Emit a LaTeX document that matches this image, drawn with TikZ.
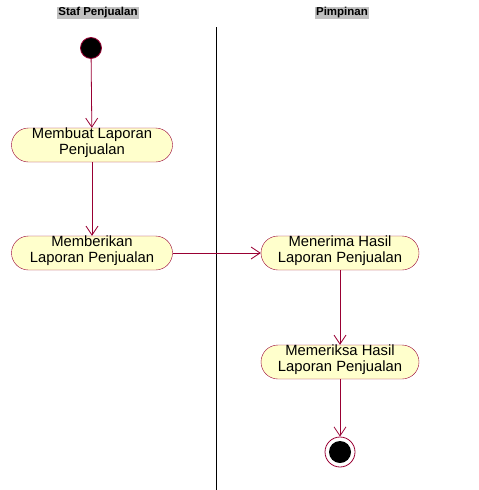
\documentclass[tikz,border=0pt]{standalone}
\usepackage{fontspec}
\setmainfont{Liberation Sans}
\usetikzlibrary{arrows.meta}
\definecolor{uline}{HTML}{990033}
\definecolor{ufill}{HTML}{FFFFCC}
\definecolor{hdr}{HTML}{C0C0C0}
\tikzset{
  act/.style={draw=uline, fill=ufill, rounded corners=17pt, minimum width=161pt, minimum height=34pt, inner sep=0pt, align=center, font=\fontsize{14.8}{17}\selectfont},
  acttext/.style={inner sep=0pt, align=center, font=\fontsize{14.8}{17}\selectfont},
  flow/.style={draw=uline, line width=0.8pt, -{Straight Barb[length=9pt,width=12pt,line width=0.8pt]}},
  hdrbox/.style={fill=hdr, inner sep=1pt, font=\fontsize{11.5}{13}\selectfont\bfseries},
}
\begin{document}
\begin{tikzpicture}[x=1pt,y=-1pt]
\useasboundingbox (0,0) rectangle (479,490);
\node[hdrbox] (h1) at (98,13) {Staf Penjualan};
\node[hdrbox] (h2) at (342,13) {Pimpinan};
\coordinate (d1) at (216,27);
\coordinate (d2) at (216,490);
\draw[line width=0.7pt] (d1) -- (d2);
\node[circle, fill=black, draw=uline, line width=0.8pt, minimum size=21pt, inner sep=0pt] (start) at (91,48) {};
\node[act] (a1) at (92,145) {};
\node[act] (a2) at (92,253) {};
\node[act, minimum width=158pt] (a3) at (340,253) {};
\node[act, minimum width=158pt] (a4) at (340,362) {};
\node[acttext] (t1) at (92,143) {Membuat Laporan\\[-1pt]Penjualan};
\node[acttext] (t2) at (92,251) {Memberikan\\[-1pt]Laporan Penjualan};
\node[acttext] (t3) at (340,251) {Menerima Hasil\\[-1pt]Laporan Penjualan};
\node[acttext] (t4) at (340,360) {Memeriksa Hasil\\[-1pt]Laporan Penjualan};
\node[circle, draw=uline, fill=white, line width=0.8pt, minimum size=30pt, inner sep=0pt] (end) at (340,452) {};
\node[circle, fill=black, minimum size=22pt, inner sep=0pt] (endin) at (340,452) {};
\draw[flow] (start) -- (a1);
\draw[flow] (a1) -- (a2);
\draw[flow] (a2) -- (a3);
\draw[flow] (a3) -- (a4);
\draw[flow] (a4) -- (end);
\end{tikzpicture}
\end{document}
